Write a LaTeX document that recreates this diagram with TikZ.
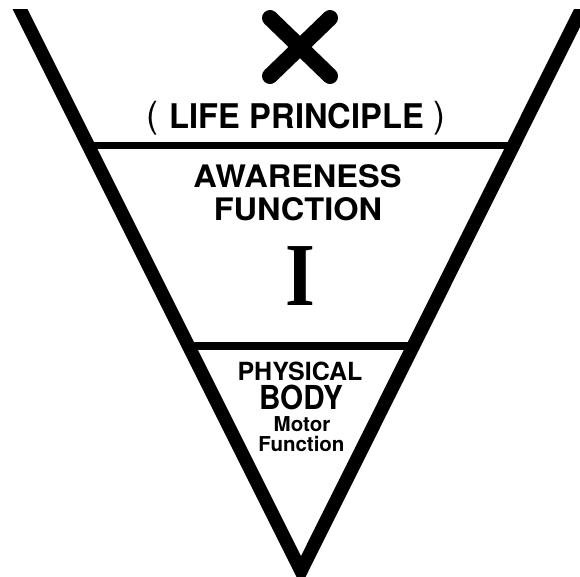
\documentclass[tikz,border=0pt]{standalone}
\usepackage{fontspec}
\setmainfont{TeX Gyre Heros}
\newfontfamily\romanI{Liberation Serif}
\usetikzlibrary{calc}
\begin{document}
\begin{tikzpicture}[x=1pt,y=-1pt,
  vline/.style={line width=13.4pt, line join=miter},
  hline/.style={line width=7.5pt},
  crossline/.style={line width=16pt, line cap=round},
  lbl/.style={inner sep=0pt, anchor=base},
  bigbf/.style={lbl, font=\bfseries\fontsize{34}{34}\selectfont},
  parenf/.style={lbl, font=\fontsize{36}{36}\selectfont},
  midbf/.style={lbl, font=\bfseries\fontsize{31}{31}\selectfont},
  romanbig/.style={lbl, font=\romanI\bfseries\fontsize{90}{90}\selectfont},
  physf/.style={lbl, font=\bfseries\fontsize{25}{25}\selectfont},
  bodyf/.style={lbl, font=\bfseries\fontsize{33}{33}\selectfont},
  smallf/.style={lbl, font=\bfseries\fontsize{20.5}{20.5}\selectfont}]
\useasboundingbox (0,0) rectangle (580,576);
% V outline
\coordinate (tl) at (15.5,0);
\coordinate (apex) at (301,571);
\coordinate (tr) at (586,0);
\begin{scope}
  \clip (-10,9) rectangle (600,600);
  \draw[vline] (tl) -- (apex) -- (tr);
\end{scope}
% horizontal dividers
\coordinate (a1) at ($(tl)!0.2548!(apex)$);
\coordinate (b1) at ($(tr)!0.2548!(apex)$);
\coordinate (a2) at ($(tl)!0.6051!(apex)$);
\coordinate (b2) at ($(tr)!0.6051!(apex)$);
\draw[hline] (a1) -- (b1);
\draw[hline, line width=8pt] (a2) -- (b2);
% cross
\coordinate (c1) at (270,18);
\coordinate (c2) at (330,76);
\coordinate (c3) at (330,18);
\coordinate (c4) at (270,76);
\draw[crossline] (c1) -- (c2);
\draw[crossline] (c3) -- (c4);
% texts
\node[parenf] (lp) at (152,127) {(};
\node[bigbf] (life) at (297,128) {\scalebox{0.96}[1]{LIFE PRINCIPLE}};
\node[parenf] (rp) at (439,127) {)};
\node[midbf] (aw) at (297.5,187) {\scalebox{1.05}[1]{AWARENESS}};
\node[midbf] (fn) at (298,220) {\scalebox{1.05}[1]{FUNCTION}};
\node[romanbig] (ii) at (300,305) {\scalebox{0.85}[1]{I}};
\node[physf] (ph) at (300,380) {PHYSICAL};
\node[bodyf] (bd) at (301,409) {\scalebox{0.9}[1]{BODY}};
\node[smallf] (mo) at (302,431) {Motor};
\node[smallf] (mf) at (301.5,451) {Function};
\end{tikzpicture}
\end{document}
